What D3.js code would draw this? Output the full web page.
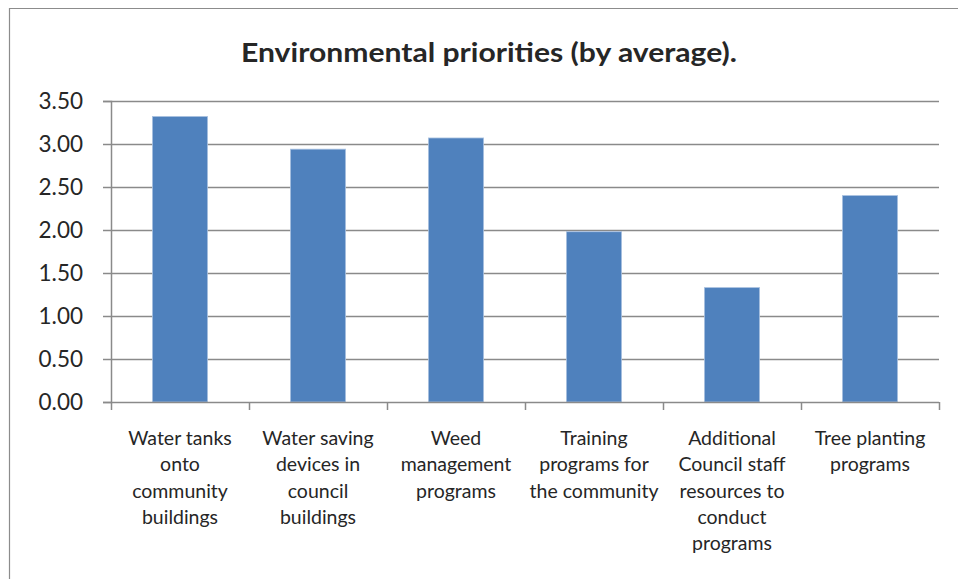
<!DOCTYPE html>
<html>
<head>
<meta charset="utf-8">
<script src="https://cdn.jsdelivr.net/npm/d3@7"></script>
<style>
  html, body { margin: 0; padding: 0; background: #fff; }
  svg { display: block; }
  text { font-family: Lato, "Open Sans", sans-serif; fill: #262626; }
</style>
</head>
<body>
<svg id="chart" width="958" height="579"></svg>
<script>
// Average priority score for each environmental initiative
const categories = [
  ["Water tanks", "onto", "community", "buildings"],
  ["Water saving", "devices in", "council", "buildings"],
  ["Weed", "management", "programs"],
  ["Training", "programs for", "the community"],
  ["Additional", "Council staff", "resources to", "conduct", "programs"],
  ["Tree planting", "programs"]
];
const values = [3.32, 2.94, 3.07, 1.98, 1.33, 2.40];
const yTicks = [0, 0.5, 1, 1.5, 2, 2.5, 3, 3.5];
const title = "Environmental priorities (by average).";

const svg = d3.select("#chart");
const W = 958, H = 579;
const plot = { left: 111, right: 939, top: 101, bottom: 402 };

// Chart frame
svg.append("path")
  .attr("d", `M9.5,${H} L9.5,8.5 L${W},8.5`)
  .attr("fill", "none")
  .attr("stroke", "#8c8c8c")
  .attr("stroke-width", 1.2);

svg.append("text")
  .attr("x", 489)
  .attr("y", 62)
  .attr("text-anchor", "middle")
  .attr("textLength", 496)
  .attr("lengthAdjust", "spacingAndGlyphs")
  .style("font-weight", "bold")
  .style("font-size", "26px")
  .text(title);

const x = d3.scaleBand()
  .domain(d3.range(categories.length))
  .range([plot.left, plot.right])
  .paddingInner(0.6)
  .paddingOuter(0.3);

const y = d3.scaleLinear()
  .domain([0, 3.5])
  .range([plot.bottom, plot.top]);

// Horizontal gridlines
svg.append("g")
  .selectAll("line")
  .data(yTicks.slice(1))
  .join("line")
  .attr("x1", plot.left)
  .attr("x2", plot.right)
  .attr("y1", d => Math.round(y(d)) + 0.5)
  .attr("y2", d => Math.round(y(d)) + 0.5)
  .attr("stroke", "#8a8a8a")
  .attr("stroke-width", 1.5);

// Bars
svg.append("g")
  .selectAll("rect")
  .data(values)
  .join("rect")
  .attr("x", (d, i) => x(i))
  .attr("y", d => y(d))
  .attr("width", x.bandwidth())
  .attr("height", d => y(0) - y(d))
  .attr("fill", "#4f81bd")
  .attr("stroke", "#a9c1e0")
  .attr("stroke-width", 0.8);

// Y axis
const yAxis = d3.axisLeft(y)
  .tickValues(yTicks)
  .tickFormat(d3.format(".2f"))
  .tickSize(8)
  .tickPadding(20);
const gy = svg.append("g")
  .attr("transform", `translate(${plot.left},0)`)
  .call(yAxis);
gy.select(".domain").attr("stroke", "#8a8a8a").attr("stroke-width", 1.5);
gy.selectAll(".tick line").attr("stroke", "#8a8a8a").attr("stroke-width", 1.5);
gy.selectAll(".tick text")
  .style("font-size", "22.5px")
  .attr("fill", "#262626");

// X axis: category boundaries as tick marks
const xEdges = d3.range(categories.length + 1).map(i =>
  i < categories.length ? x(i) - x.step() * x.paddingInner() / 2 : plot.right);
const gx = svg.append("g");
gx.append("line")
  .attr("x1", plot.left).attr("x2", plot.right)
  .attr("y1", plot.bottom + 0.5).attr("y2", plot.bottom + 0.5)
  .attr("stroke", "#8a8a8a").attr("stroke-width", 1.5);
gx.selectAll("line.tick")
  .data(xEdges)
  .join("line")
  .attr("class", "tick")
  .attr("x1", d => Math.round(d) + 0.5)
  .attr("x2", d => Math.round(d) + 0.5)
  .attr("y1", plot.bottom)
  .attr("y2", plot.bottom + 8)
  .attr("stroke", "#8a8a8a").attr("stroke-width", 1.5);

// Wrapped category labels
const labels = gx.selectAll("text.cat")
  .data(categories)
  .join("text")
  .attr("class", "cat")
  .attr("text-anchor", "middle")
  .style("font-size", "19.5px");
labels.each(function(lines, i) {
  const t = d3.select(this);
  lines.forEach((ln, k) => {
    t.append("tspan")
      .attr("x", x(i) + x.bandwidth() / 2)
      .attr("y", 445 + k * 26.3)
      .text(ln);
  });
});
</script>
</body>
</html>
